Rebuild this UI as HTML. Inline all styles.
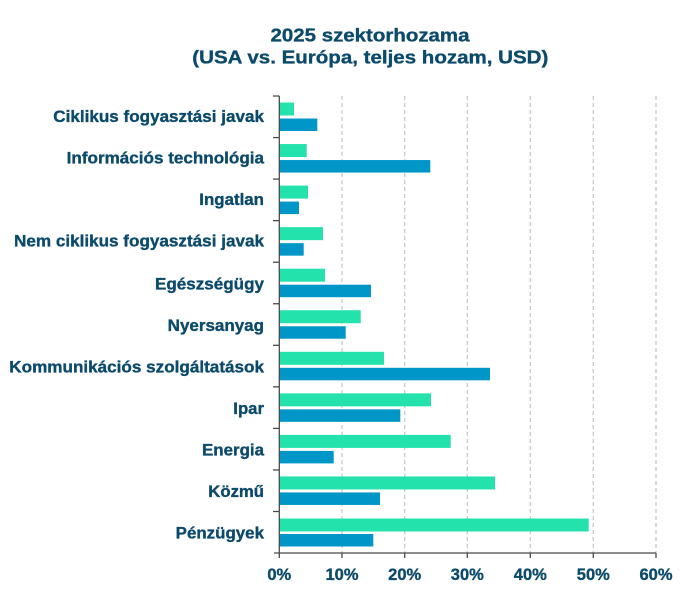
<!DOCTYPE html>
<html><head><meta charset="utf-8"><style>
html,body{margin:0;padding:0;background:#fff;}
svg{display:block;}
text{font-family:"Liberation Sans",Arial,sans-serif;font-weight:bold;fill:#0b4a6b;stroke:#0b4a6b;stroke-width:0.35px;}
</style></head><body>
<svg width="697" height="598" viewBox="0 0 697 598" xmlns="http://www.w3.org/2000/svg">
<rect width="697" height="598" fill="#fff"/>
<text x="370" y="41.7" font-size="18.6" text-anchor="middle" textLength="199" lengthAdjust="spacingAndGlyphs">2025 szektorhozama</text>
<text x="370.3" y="63.5" font-size="18.6" text-anchor="middle" textLength="356" lengthAdjust="spacingAndGlyphs">(USA vs. Európa, teljes hozam, USD)</text>
<g stroke="#c9c9c9" stroke-width="1.3" stroke-dasharray="4 3">
<line x1="342" y1="96" x2="342" y2="553"/>
<line x1="404.7" y1="96" x2="404.7" y2="553"/>
<line x1="467.3" y1="96" x2="467.3" y2="553"/>
<line x1="530.3" y1="96" x2="530.3" y2="553"/>
<line x1="593.3" y1="96" x2="593.3" y2="553"/>
<line x1="656" y1="96" x2="656" y2="553"/>
</g>
<g>
<rect x="279.5" y="102.5" width="14.5" height="13" fill="#24e2ac"/>
<rect x="279.5" y="118.5" width="37.8" height="12.5" fill="#0096c7"/>
<rect x="279.5" y="144.05" width="27.2" height="13" fill="#24e2ac"/>
<rect x="279.5" y="160.05" width="150.8" height="12.5" fill="#0096c7"/>
<rect x="279.5" y="185.6" width="28.5" height="13" fill="#24e2ac"/>
<rect x="279.5" y="201.6" width="19.5" height="12.5" fill="#0096c7"/>
<rect x="279.5" y="227.15" width="43.5" height="13" fill="#24e2ac"/>
<rect x="279.5" y="243.15" width="24.2" height="12.5" fill="#0096c7"/>
<rect x="279.5" y="268.7" width="45.5" height="13" fill="#24e2ac"/>
<rect x="279.5" y="284.7" width="91.5" height="12.5" fill="#0096c7"/>
<rect x="279.5" y="310.25" width="81.2" height="13" fill="#24e2ac"/>
<rect x="279.5" y="326.25" width="66.2" height="12.5" fill="#0096c7"/>
<rect x="279.5" y="351.8" width="104.5" height="13" fill="#24e2ac"/>
<rect x="279.5" y="367.8" width="210.5" height="12.5" fill="#0096c7"/>
<rect x="279.5" y="393.35" width="151.5" height="13" fill="#24e2ac"/>
<rect x="279.5" y="409.35" width="120.8" height="12.5" fill="#0096c7"/>
<rect x="279.5" y="434.9" width="171.2" height="13" fill="#24e2ac"/>
<rect x="279.5" y="450.9" width="54.2" height="12.5" fill="#0096c7"/>
<rect x="279.5" y="476.45" width="215.5" height="13" fill="#24e2ac"/>
<rect x="279.5" y="492.45" width="100.5" height="12.5" fill="#0096c7"/>
<rect x="279.5" y="518.5" width="309.2" height="13" fill="#24e2ac"/>
<rect x="279.5" y="534" width="93.8" height="12.5" fill="#0096c7"/>
</g>
<g stroke="#4a4a4a" stroke-width="1.3">
<line x1="279.3" y1="96" x2="279.3" y2="553"/>
<line x1="274" y1="553" x2="656" y2="553"/>
<line x1="273" y1="96" x2="279.3" y2="96"/>
<line x1="273" y1="137.55" x2="279.3" y2="137.55"/>
<line x1="273" y1="179.1" x2="279.3" y2="179.1"/>
<line x1="273" y1="220.65" x2="279.3" y2="220.65"/>
<line x1="273" y1="262.2" x2="279.3" y2="262.2"/>
<line x1="273" y1="303.75" x2="279.3" y2="303.75"/>
<line x1="273" y1="345.3" x2="279.3" y2="345.3"/>
<line x1="273" y1="386.85" x2="279.3" y2="386.85"/>
<line x1="273" y1="428.4" x2="279.3" y2="428.4"/>
<line x1="273" y1="469.95" x2="279.3" y2="469.95"/>
<line x1="273" y1="511.5" x2="279.3" y2="511.5"/>
<line x1="279.3" y1="553" x2="279.3" y2="558"/>
<line x1="342" y1="553" x2="342" y2="558"/>
<line x1="404.7" y1="553" x2="404.7" y2="558"/>
<line x1="467.3" y1="553" x2="467.3" y2="558"/>
<line x1="530.3" y1="553" x2="530.3" y2="558"/>
<line x1="593.3" y1="553" x2="593.3" y2="558"/>
<line x1="656" y1="553" x2="656" y2="558"/>
</g>
<g font-size="16.3" text-anchor="end">
<text x="264" y="122" textLength="210.7" lengthAdjust="spacingAndGlyphs">Ciklikus fogyasztási javak</text>
<text x="264" y="163.5" textLength="197.3" lengthAdjust="spacingAndGlyphs">Információs technológia</text>
<text x="264" y="205" textLength="64.7" lengthAdjust="spacingAndGlyphs">Ingatlan</text>
<text x="264" y="246.6" textLength="250" lengthAdjust="spacingAndGlyphs">Nem ciklikus fogyasztási javak</text>
<text x="264" y="289.5" textLength="109" lengthAdjust="spacingAndGlyphs">Egészségügy</text>
<text x="264" y="331" textLength="96.3" lengthAdjust="spacingAndGlyphs">Nyersanyag</text>
<text x="264" y="372.6" textLength="254.7" lengthAdjust="spacingAndGlyphs">Kommunikációs szolgáltatások</text>
<text x="264" y="414" textLength="30.7" lengthAdjust="spacingAndGlyphs">Ipar</text>
<text x="264" y="455.6" textLength="62" lengthAdjust="spacingAndGlyphs">Energia</text>
<text x="264" y="497" textLength="55.7" lengthAdjust="spacingAndGlyphs">Közmű</text>
<text x="264" y="538.6" textLength="88.3" lengthAdjust="spacingAndGlyphs">Pénzügyek</text>
</g>
<g font-size="16.5" text-anchor="middle">
<text x="279.3" y="580">0%</text>
<text x="342" y="580">10%</text>
<text x="404.7" y="580">20%</text>
<text x="467.3" y="580">30%</text>
<text x="530.3" y="580">40%</text>
<text x="593.3" y="580">50%</text>
<text x="656" y="580">60%</text>
</g>
</svg>
</body></html>
